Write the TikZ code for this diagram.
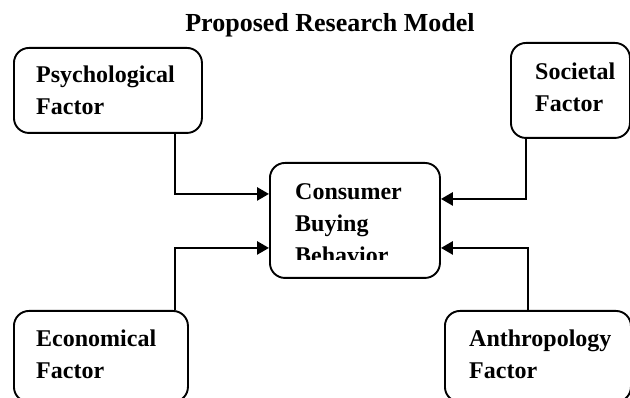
\documentclass[tikz,border=0pt]{standalone}
\usepackage{fontspec}
\setmainfont{Liberation Serif}
\usetikzlibrary{arrows.meta}
\begin{document}
\begin{tikzpicture}[x=1pt,y=-1pt,
  box/.style={draw, line width=1.9pt, rounded corners=15pt, rectangle, inner sep=0pt, anchor=north west},
  lbl/.style={font=\fontsize{24}{32}\selectfont\bfseries, align=left, text width=200pt, inner sep=0pt, anchor=base west},
  ttl/.style={font=\fontsize{26}{30}\selectfont\bfseries, inner sep=0pt, anchor=base},
  conn/.style={line width=2.7pt, -{Triangle[length=12pt,width=13pt]}}]
\useasboundingbox (0,0) rectangle (630,398);
\fill[white] (0,0) rectangle (630,398);
% title
\node[ttl] (title) at (330,32) {Proposed Research Model};
% boxes
\node[box, minimum width=188pt, minimum height=85pt] (psy) at (13,47) {};
\node[box, minimum width=119pt, minimum height=95pt] (soc) at (510,42) {};
\node[box, minimum width=170pt, minimum height=115pt] (cb) at (269,162) {};
\node[box, minimum width=174pt, minimum height=91pt] (eco) at (13,310) {};
\node[box, minimum width=186pt, minimum height=91pt] (ant) at (444,310) {};
% labels
\node[lbl] (psyt) at (36,83) {Psychological\\Factor};
\node[lbl] (soct) at (535,80) {Societal\\Factor};
\node[lbl] (ecot) at (36,347) {Economical\\Factor};
\node[lbl] (antt) at (469,347) {Anthropology\\Factor};
\begin{scope}
  \clip (269,162) rectangle (439,260);
  \node[lbl] (cbt) at (295,200) {Consumer\\Buying\\Behavior};
\end{scope}
% connectors
\draw[conn] ([xshift=-28pt]psy.south east) |- ([yshift=26.5pt]cb.west);
\draw[conn] ([xshift=16pt]soc.south west) |- ([yshift=21.5pt]cb.east);
\draw[conn] ([xshift=-14pt]eco.north east) |- ([yshift=-27.5pt]cb.west);
\draw[conn] ([xshift=84pt]ant.north west) |- ([yshift=-27.5pt]cb.east);
\end{tikzpicture}
\end{document}
